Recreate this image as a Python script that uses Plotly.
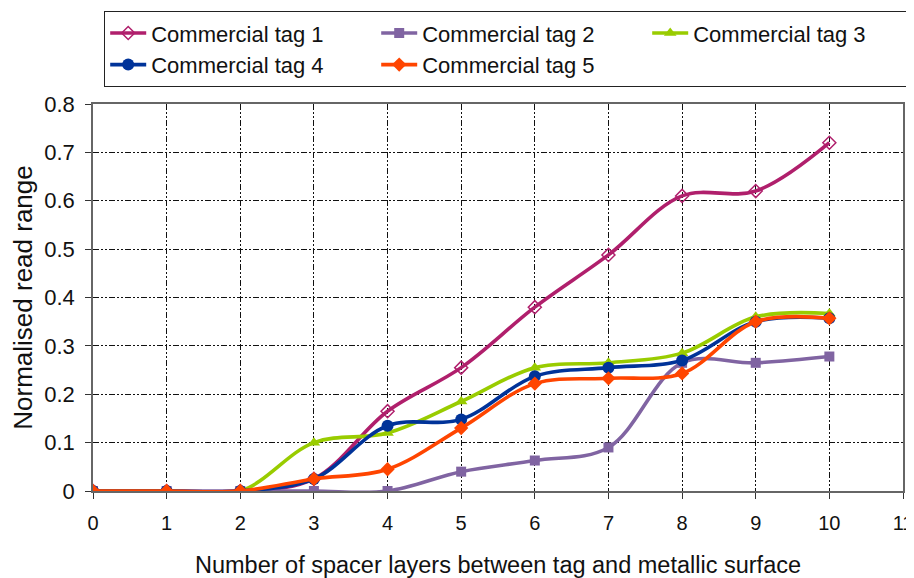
import plotly.graph_objects as go

layers = [0, 1, 2, 3, 4, 5, 6, 7, 8, 9, 10]
tag1 = [0, 0, 0, 0.025, 0.165, 0.255, 0.38, 0.488, 0.61, 0.62, 0.72]
tag2 = [0, 0, 0, 0, 0, 0.04, 0.063, 0.09, 0.265, 0.265, 0.278]
tag3 = [0, 0, 0, 0.1, 0.12, 0.185, 0.255, 0.265, 0.285, 0.36, 0.367]
tag4 = [0, 0, 0, 0.025, 0.135, 0.148, 0.237, 0.255, 0.27, 0.35, 0.357]
tag5 = [0, 0, 0, 0.025, 0.045, 0.13, 0.222, 0.233, 0.243, 0.35, 0.357]

names = ["Commercial tag 1", "Commercial tag 2", "Commercial tag 3",
         "Commercial tag 4", "Commercial tag 5"]
series = [tag1, tag2, tag3, tag4, tag5]
colors = ["#B01F6C", "#8064A2", "#99CC00", "#003399", "#FF4500"]
symbols = ["diamond-open", "square", "triangle-up", "circle", "diamond"]
sizes = [10, 10, 11, 12, 11]

# page body has an 8px default margin; size the figure to fit the window
OFF = 8
W, H = 914 - OFF, 578 - OFF

fig = go.Figure()
for n, s, c, sym, sz in zip(names, series, colors, symbols, sizes):
    fig.add_trace(go.Scatter(
        x=layers, y=s, name=n, mode="lines+markers",
        line=dict(color=c, width=3.6, shape="spline", smoothing=1.0),
        marker=dict(symbol=sym, size=sz, color=c,
                    line=dict(color=c, width=1.5) if sym == "diamond-open" else dict(width=0)),
    ))

grid = dict(showgrid=True, gridcolor="#111111", gridwidth=1,
            griddash="6px,2px,2px,2px,2px,2px")

fig.update_layout(
    width=W, height=H,
    margin=dict(l=93 - OFF, r=11, t=104 - OFF, b=87, autoexpand=False),
    paper_bgcolor="white", plot_bgcolor="white",
    font=dict(family="Liberation Sans, Arial, sans-serif", size=21, color="#111111"),
    showlegend=True,
    legend=dict(
        orientation="h", xref="container", yref="container",
        x=(104 - OFF) / W, y=1 - (11 - OFF) / H, xanchor="left", yanchor="top",
        entrywidth=220, entrywidthmode="pixels",
        bordercolor="#222222", borderwidth=1.2, bgcolor="white",
        font=dict(size=22, color="#111111"), tracegroupgap=0,
        itemwidth=36,
    ),
)
fig.update_xaxes(
    range=[0, 11], dtick=1, tick0=0, automargin=False,
    showline=True, linecolor="#666666", linewidth=1.5, mirror=True,
    ticks="outside", ticklen=6, tickcolor="#333333",
    tickfont=dict(size=20), ticklabelstandoff=7,
    title=dict(text="Number of spacer layers between tag and metallic surface",
               standoff=24, font=dict(size=23.5)),
    zeroline=False, **grid,
)
fig.update_yaxes(
    range=[0, 0.8], dtick=0.1, tick0=0, automargin=False,
    showline=True, linecolor="#666666", linewidth=1.5, mirror=True,
    ticks="outside", ticklen=6, tickcolor="#333333",
    tickfont=dict(size=22), ticklabelstandoff=6,
    title=dict(text="Normalised read range", standoff=10, font=dict(size=26)),
    zeroline=False, tickformat="~g", **grid,
)
fig.write_html("out.html")
